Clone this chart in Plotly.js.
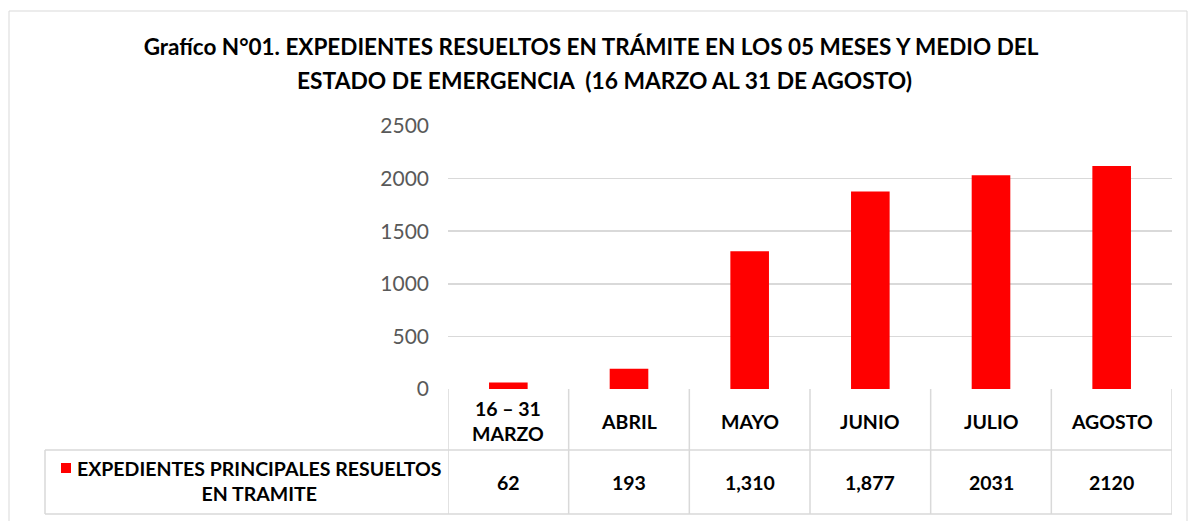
<!DOCTYPE html>
<html>
<head>
<meta charset="utf-8">
<script src="https://cdn.plot.ly/plotly-3.0.1.min.js"></script>
<style>html,body{margin:0;padding:0;background:#fff;}#chart{width:1188px;height:521px;}</style>
</head>
<body>
<div id="chart"></div>
<script>
// ---- data ----
const categories = ['16 – 31<br>MARZO', 'ABRIL', 'MAYO', 'JUNIO', 'JULIO', 'AGOSTO'];
const values = [62, 193, 1310, 1877, 2031, 2120];
const tableLabels = ['62', '193', '1,310', '1,877', '2031', '2120'];
const seriesName = 'EXPEDIENTES PRINCIPALES RESUELTOS<br>EN TRAMITE';
const yTicks = [0, 500, 1000, 1500, 2000, 2500];
const titleLine1 = 'Grafíco N°01. EXPEDIENTES RESUELTOS EN TRÁMITE EN LOS 05 MESES Y MEDIO DEL';
const titleLine2 = 'ESTADO DE EMERGENCIA \u00a0(16 MARZO AL 31 DE AGOSTO)';

// ---- layout geometry (pixels) ----
const W = 1188, H = 521;
const L = 448, R = 1172, T = 126, B = 389;
const pw = R - L, ph = B - T;
const px = p => (p - L) / pw;       // pixel x -> paper
const py = p => (B - p) / ph;       // pixel y -> paper
const FONT = 'Lato, "Open Sans", sans-serif';
const grid = '#d9d9d9';
const tfont = {family: FONT, size: 19.5, color: '#000', weight: 'bold'};

const trace = {
  type: 'bar',
  x: categories,
  y: values,
  name: seriesName,
  marker: {color: '#ff0000'},
  width: 0.32,
  showlegend: false,
  hoverinfo: 'x+y'
};

const shapes = [];
const annotations = [];
const n = categories.length;

// outer chart border
shapes.push({type: 'rect', xref: 'paper', yref: 'paper', x0: px(9), x1: px(1187), y0: py(530), y1: py(11),
  line: {color: '#d9d9d9', width: 1}, layer: 'below'});

// data table: vertical lines at category boundaries
for (let i = 0; i <= n; i++) {
  shapes.push({type: 'line', xref: 'x', yref: 'paper', x0: i - 0.5, x1: i - 0.5, y0: 0, y1: py(514),
    line: {color: grid, width: 1.5}});
}
shapes.push({type: 'line', xref: 'paper', yref: 'paper', x0: px(45), x1: 1, y0: py(450), y1: py(450), line: {color: grid, width: 1.5}});
shapes.push({type: 'line', xref: 'paper', yref: 'paper', x0: px(45), x1: 1, y0: py(514), y1: py(514), line: {color: grid, width: 1.5}});
shapes.push({type: 'line', xref: 'paper', yref: 'paper', x0: px(45), x1: px(45), y0: py(450), y1: py(514), line: {color: grid, width: 1.5}});
// legend key
shapes.push({type: 'rect', xref: 'paper', yref: 'paper', x0: px(61), x1: px(71), y0: py(473), y1: py(463),
  line: {width: 0}, fillcolor: '#ff0000'});

// table texts
for (let i = 0; i < n; i++) {
  annotations.push({xref: 'x', yref: 'paper', x: i, y: py(421), text: categories[i], showarrow: false,
    font: tfont, xanchor: 'center', yanchor: 'middle', align: 'center'});
  annotations.push({xref: 'x', yref: 'paper', x: i, y: py(482), text: tableLabels[i], showarrow: false,
    font: tfont, xanchor: 'center', yanchor: 'middle'});
}
annotations.push({xref: 'paper', yref: 'paper', x: px(259), y: py(481), text: seriesName, showarrow: false,
  font: tfont, xanchor: 'center', yanchor: 'middle', align: 'center'});
// second title line
annotations.push({xref: 'paper', yref: 'paper', x: px(604), y: py(80), text: titleLine2, showarrow: false,
  font: {family: FONT, size: 22.8, color: '#000', weight: 'bold'}, xanchor: 'center', yanchor: 'middle'});

const layout = {
  width: W, height: H,
  margin: {l: L, r: W - R, t: T, b: H - B, pad: 0},
  paper_bgcolor: '#fff', plot_bgcolor: '#fff',
  title: {text: titleLine1, x: 591 / W, xref: 'container', xanchor: 'center', y: 1 - 47 / H, yref: 'container', yanchor: 'middle',
    font: {family: FONT, size: 22.5, color: '#000', weight: 'bold'}},
  xaxis: {type: 'category', range: [-0.5, n - 0.5], showticklabels: false, showgrid: false, showline: false, zeroline: false, ticks: '', fixedrange: true},
  yaxis: {range: [0, 2500], tickvals: yTicks, showgrid: true, gridcolor: grid, gridwidth: 1.5, zeroline: false, showline: false, ticks: '',
    ticklabelstandoff: 18, tickfont: {family: FONT, size: 21, color: '#595959'}, fixedrange: true},
  shapes: shapes,
  annotations: annotations
};

Plotly.newPlot('chart', [trace], layout, {displayModeBar: false, staticPlot: true});
</script>
</body>
</html>
